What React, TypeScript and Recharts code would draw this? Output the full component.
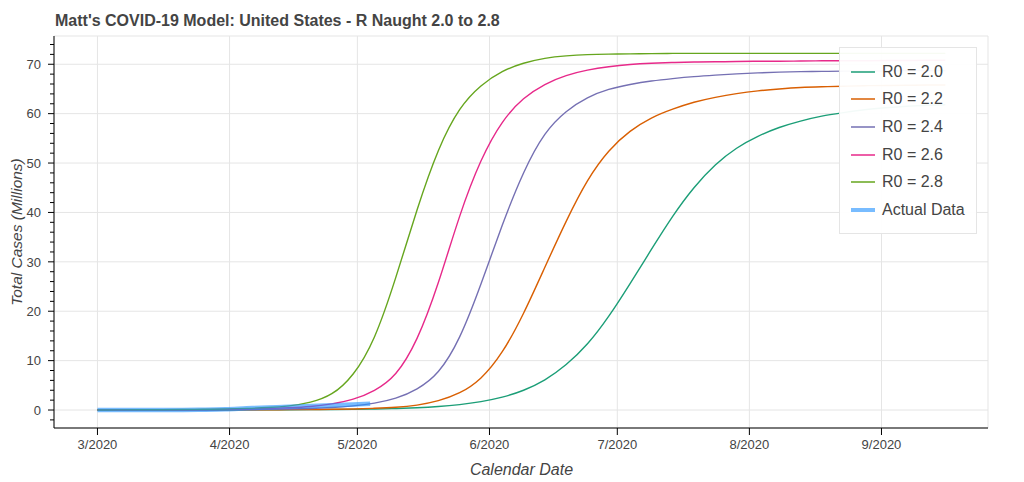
import {
  LineChart,
  Line,
  XAxis,
  YAxis,
  CartesianGrid,
  Legend,
  Label,
  ReferenceArea,
} from "recharts";

// days since 3/1/2020
const days = [
  0, 5, 10, 15, 20, 25, 30, 35, 40, 45, 50, 55, 60, 65, 70, 75, 80, 85, 90, 95, 100,
  105, 110, 115, 120, 125, 130, 135, 140, 145, 150, 155, 160, 165, 170, 175, 180, 185,
  190, 195, 199,
];

// total cases, millions
const r20 = [
  0, 0.002, 0.004, 0.006, 0.009, 0.013, 0.018, 0.025, 0.035, 0.05, 0.07, 0.1, 0.14, 0.2,
  0.3, 0.45, 0.7, 1.1, 1.7, 2.6, 4.0, 6.1, 9.2, 13.4, 19.0, 25.6, 32.5, 39.2, 45.0, 49.6,
  53.0, 55.4, 57.2, 58.5, 59.5, 60.2, 60.8, 61.2, 61.5, 61.7, 61.8,
];
const r22 = [
  0, 0.003, 0.006, 0.01, 0.015, 0.02, 0.03, 0.04, 0.05, 0.07, 0.1, 0.15, 0.22, 0.35, 0.55,
  1.0, 1.9, 3.5, 6.5, 11.8, 19.6, 28.9, 38.2, 46.4, 52.4, 56.4, 59.1, 60.9, 62.3, 63.3,
  64.05, 64.6, 65.0, 65.3, 65.45, 65.55, 65.65, 65.7, 65.75, 65.8, 65.8,
];
const r24 = [
  0, 0.005, 0.01, 0.02, 0.03, 0.05, 0.07, 0.1, 0.14, 0.2, 0.3, 0.5, 0.85, 1.4, 2.4, 4.3,
  7.8, 14.8, 25.5, 37.4, 48.0, 55.8, 60.4, 63.2, 64.9, 65.9, 66.6, 67.1, 67.5, 67.8, 68.05,
  68.25, 68.4, 68.5, 68.55, 68.6, 68.6, 68.65, 68.7, 68.7, 68.7,
];
const r26 = [
  0, 0.01, 0.02, 0.04, 0.06, 0.09, 0.13, 0.2, 0.3, 0.45, 0.7, 1.25, 2.2, 4.0, 7.4, 14.5,
  25.8, 39.2, 50.4, 58.2, 63.0, 65.9, 67.7, 68.8, 69.5, 69.95, 70.2, 70.35, 70.45, 70.5,
  70.55, 70.6, 70.6, 70.65, 70.7, 70.7, 70.7, 70.75, 70.75, 70.8, 70.8,
];
const r28 = [
  0, 0.02, 0.04, 0.06, 0.1, 0.15, 0.22, 0.33, 0.5, 0.85, 1.6, 3.3, 7.3, 14.8, 26.8, 40.5,
  52.5, 60.8, 65.6, 68.5, 70.2, 71.2, 71.7, 71.95, 72.05, 72.1, 72.15, 72.2, 72.2, 72.2,
  72.2, 72.2, 72.2, 72.2, 72.2, 72.2, 72.2, 72.2, 72.2, 72.2, 72.2,
];

const actualDays = [0, 5, 10, 15, 20, 25, 30, 35, 40, 45, 50, 55, 60, 64];
const actualCases = [
  0.0001, 0.0003, 0.001, 0.004, 0.02, 0.07, 0.16, 0.34, 0.5, 0.66, 0.8, 0.96, 1.12, 1.27,
];

const seriesKeys = ["r20", "r22", "r24", "r26", "r28"];
const seriesNames = ["R0 = 2.0", "R0 = 2.2", "R0 = 2.4", "R0 = 2.6", "R0 = 2.8"];
const COLORS = ["#1b9e77", "#d95f02", "#7570b3", "#e7298a", "#66a61e"];
const ACTUAL_COLOR = "#1e90ff";

const xTicks = [0, 31, 61, 92, 122, 153, 184];
const xLabels = ["3/2020", "4/2020", "5/2020", "6/2020", "7/2020", "8/2020", "9/2020"];
const yMajor = [0, 10, 20, 30, 40, 50, 60, 70];
const yTicks: number[] = [];
for (let v = -2; v <= 74; v += 2) yTicks.push(v);

const X_DOMAIN = [-10.2, 209];
const Y_DOMAIN = [-3.64, 75.72];

const modelData = days.map((d, i) => ({
  day: d,
  r20: r20[i],
  r22: r22[i],
  r24: r24[i],
  r26: r26[i],
  r28: r28[i],
}));
const actualData = actualDays.map((d, i) => ({ day: d, actual: actualCases[i] }));

const FONT = "'Liberation Sans', Arial, Helvetica, sans-serif";
const TEXT = "#444444";

const YTick = (props: any) => {
  const { x, y, payload } = props;
  const v = payload.value;
  const major = yMajor.includes(v);
  const axisX = x + 13;
  return (
    <g>
      <line x1={axisX - (major ? 6 : 4)} x2={axisX} y1={y} y2={y} stroke="#000" />
      {major && (
        <text
          x={x}
          y={y}
          dy="0.36em"
          textAnchor="end"
          fontSize={13}
          fontFamily={FONT}
          fill={TEXT}
        >
          {v}
        </text>
      )}
    </g>
  );
};

const YTitle = () => (
  <text
    x={21.5}
    y={232}
    transform="rotate(-90, 21.5, 232)"
    textAnchor="middle"
    fontSize={15.5}
    fontStyle="italic"
    fontFamily={FONT}
    fill={TEXT}
  >
    Total Cases (Millions)
  </text>
);

const XTitle = () => (
  <text
    x={521.5}
    y={475}
    textAnchor="middle"
    fontSize={16}
    fontStyle="italic"
    fontFamily={FONT}
    fill={TEXT}
  >
    Calendar Date
  </text>
);

const LegendBox = () => (
  <div
    style={{
      width: 138,
      height: 187,
      boxSizing: "border-box",
      border: "1px solid #e5e5e5",
      background: "rgba(255,255,255,0.95)",
      paddingTop: 10,
      fontFamily: FONT,
      fontSize: 16,
      color: TEXT,
    }}
  >
    {[...seriesNames, "Actual Data"].map((name, i) => (
      <div key={name} style={{ display: "flex", alignItems: "center", height: 27.6 }}>
        <svg width={24} height={6} style={{ marginLeft: 11, marginRight: 7 }}>
          <line
            x1={0}
            x2={24}
            y1={3}
            y2={3}
            stroke={i < 5 ? COLORS[i] : ACTUAL_COLOR}
            strokeOpacity={i < 5 ? 1 : 0.6}
            strokeWidth={i < 5 ? 1.5 : 4}
          />
        </svg>
        <span style={{ lineHeight: "18px" }}>{name}</span>
      </div>
    ))}
  </div>
);

export default function App() {
  return (
    <div style={{ position: "absolute", left: 0, top: 0, width: 1024, height: 482 }}>
      <div
        style={{
          position: "absolute",
          left: 55,
          top: 12.5,
          fontFamily: FONT,
          fontSize: 16,
          lineHeight: "16px",
          fontWeight: "bold",
          color: TEXT,
          whiteSpace: "nowrap",
        }}
      >
        Matt's COVID-19 Model: United States - R Naught 2.0 to 2.8
      </div>
      <LineChart width={1024} height={482} margin={{ top: 36, right: 36, bottom: 0, left: 0 }}>
        <CartesianGrid
          stroke="#e5e5e5"
          verticalValues={xTicks}
          horizontalValues={yMajor}
        />
        <ReferenceArea
          x1={X_DOMAIN[0]}
          x2={X_DOMAIN[1]}
          y1={Y_DOMAIN[0]}
          y2={Y_DOMAIN[1]}
          fill="none"
          stroke="#e5e5e5"
          ifOverflow="visible"
        />
        <XAxis
          dataKey="day"
          type="number"
          domain={X_DOMAIN}
          allowDataOverflow
          ticks={xTicks}
          interval={0}
          tickFormatter={(v: number) => xLabels[xTicks.indexOf(v)]}
          height={54}
          tickSize={7}
          tickMargin={5}
          axisLine={{ stroke: "#000" }}
          tickLine={{ stroke: "#000" }}
          tick={{ fill: TEXT, fontSize: 13, fontFamily: FONT }}
        >
          <Label content={XTitle} />
        </XAxis>
        <YAxis
          type="number"
          domain={Y_DOMAIN}
          allowDataOverflow
          ticks={yTicks}
          interval={0}
          width={54}
          tickSize={6}
          tickMargin={7}
          tickLine={false}
          axisLine={{ stroke: "#000" }}
          tick={<YTick />}
        >
          <Label content={YTitle} />
        </YAxis>
        {seriesKeys.map((k, i) => (
          <Line
            key={k}
            data={modelData}
            dataKey={k}
            name={seriesNames[i]}
            type="natural"
            stroke={COLORS[i]}
            strokeWidth={1.4}
            dot={false}
            activeDot={false}
            isAnimationActive={false}
          />
        ))}
        <Line
          data={actualData}
          dataKey="actual"
          name="Actual Data"
          type="monotone"
          stroke={ACTUAL_COLOR}
          strokeWidth={4.5}
          strokeOpacity={0.6}
          dot={false}
          activeDot={false}
          isAnimationActive={false}
        />
        <Legend
          layout="vertical"
          align="center"
          verticalAlign="middle"
          content={<LegendBox />}
          wrapperStyle={{ left: 839, top: 47, width: 138, height: 187 }}
        />
      </LineChart>
    </div>
  );
}
